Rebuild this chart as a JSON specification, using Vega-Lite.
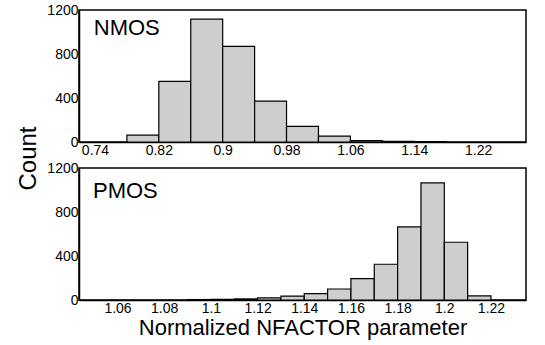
{
  "$schema": "https://vega.github.io/schema/vega-lite/v6.json",
  "autosize": {"type": "pad"},
  "padding": {"left": 16, "top": 2, "right": 17, "bottom": 2},
  "background": "white",
  "datasets": {
    "nmos": [
      {"lo": 0.78, "hi": 0.82, "count": 62},
      {"lo": 0.82, "hi": 0.86, "count": 551},
      {"lo": 0.86, "hi": 0.90, "count": 1117},
      {"lo": 0.90, "hi": 0.94, "count": 869},
      {"lo": 0.94, "hi": 0.98, "count": 372},
      {"lo": 0.98, "hi": 1.02, "count": 142},
      {"lo": 1.02, "hi": 1.06, "count": 53},
      {"lo": 1.06, "hi": 1.10, "count": 13},
      {"lo": 1.10, "hi": 1.14, "count": 5},
      {"lo": 1.14, "hi": 1.18, "count": 3}
    ],
    "pmos": [
      {"lo": 1.09, "hi": 1.10, "count": 4},
      {"lo": 1.10, "hi": 1.11, "count": 6},
      {"lo": 1.11, "hi": 1.12, "count": 10},
      {"lo": 1.12, "hi": 1.13, "count": 19},
      {"lo": 1.13, "hi": 1.14, "count": 36},
      {"lo": 1.14, "hi": 1.15, "count": 58},
      {"lo": 1.15, "hi": 1.16, "count": 100},
      {"lo": 1.16, "hi": 1.17, "count": 194},
      {"lo": 1.17, "hi": 1.18, "count": 325},
      {"lo": 1.18, "hi": 1.19, "count": 664},
      {"lo": 1.19, "hi": 1.20, "count": 1064},
      {"lo": 1.20, "hi": 1.21, "count": 525},
      {"lo": 1.21, "hi": 1.22, "count": 37}
    ]
  },
  "config": {
    "font": "Liberation Sans",
    "view": {"stroke": "black", "strokeWidth": 1.5},
    "axis": {
      "labelFont": "Liberation Sans",
      "labelFontSize": 14,
      "labelColor": "black",
      "titleFont": "Liberation Sans",
      "titleFontWeight": "normal",
      "titleColor": "black",
      "grid": false,
      "domainColor": "black",
      "domainWidth": 1.5,
      "tickColor": "black"
    }
  },
  "bounds": "flush",
  "spacing": 26,
  "vconcat": [
    {
      "width": 447,
      "height": 132,
      "layer": [
        {
          "data": {"name": "nmos"},
          "mark": {"type": "rect", "fill": "#cecece", "stroke": "black", "strokeWidth": 1.2},
          "encoding": {
            "x": {
              "field": "lo",
              "type": "quantitative",
              "scale": {"domain": [0.72, 1.28], "nice": false, "zero": false},
              "axis": {
                "values": [0.74, 0.82, 0.9, 0.98, 1.06, 1.14, 1.22],
                "format": "~g",
                "ticks": false,
                "labelPadding": 1,
                "title": null
              }
            },
            "x2": {"field": "hi"},
            "y": {
              "field": "count",
              "type": "quantitative",
              "scale": {"domain": [0, 1200], "nice": false},
              "axis": {
                "values": [0, 200, 400, 600, 800, 1000, 1200],
                "labelExpr": "datum.value % 400 === 0 ? format(datum.value, 'd') : ''",
                "tickSize": -4,
                "tickOpacity": {"condition": {"test": "datum.value % 400 === 0", "value": 0}, "value": 1},
                "labelPadding": 5,
                "title": "Count",
                "titleFontSize": 24,
                "titleY": 148,
                "titlePadding": 6
              }
            },
            "y2": {"datum": 0}
          }
        },
        {
          "data": {"values": [{"label": "NMOS"}]},
          "mark": {"type": "text", "fontSize": 22, "fontWeight": "normal", "align": "left", "baseline": "alphabetic", "fill": "black"},
          "encoding": {
            "text": {"field": "label"},
            "x": {"datum": 0.7385, "type": "quantitative"},
            "y": {"datum": 975, "type": "quantitative"}
          }
        }
      ]
    },
    {
      "width": 447,
      "height": 132,
      "layer": [
        {
          "data": {"name": "pmos"},
          "mark": {"type": "rect", "fill": "#cecece", "stroke": "black", "strokeWidth": 1.2},
          "encoding": {
            "x": {
              "field": "lo",
              "type": "quantitative",
              "scale": {"domain": [1.0435, 1.235], "nice": false, "zero": false},
              "axis": {
                "values": [1.06, 1.08, 1.1, 1.12, 1.14, 1.16, 1.18, 1.2, 1.22],
                "format": "~g",
                "ticks": false,
                "labelPadding": 1,
                "title": "Normalized NFACTOR parameter",
                "titleFontSize": 22,
                "titlePadding": 2
              }
            },
            "x2": {"field": "hi"},
            "y": {
              "field": "count",
              "type": "quantitative",
              "scale": {"domain": [0, 1200], "nice": false},
              "axis": {
                "values": [0, 200, 400, 600, 800, 1000, 1200],
                "labelExpr": "datum.value % 400 === 0 ? format(datum.value, 'd') : ''",
                "tickSize": -4,
                "tickOpacity": {"condition": {"test": "datum.value % 400 === 0", "value": 0}, "value": 1},
                "labelPadding": 5,
                "title": null
              }
            },
            "y2": {"datum": 0}
          }
        },
        {
          "data": {"values": [{"label": "PMOS"}]},
          "mark": {"type": "text", "fontSize": 22, "fontWeight": "normal", "align": "left", "baseline": "alphabetic", "fill": "black"},
          "encoding": {
            "text": {"field": "label"},
            "x": {"datum": 1.0495, "type": "quantitative"},
            "y": {"datum": 930, "type": "quantitative"}
          }
        }
      ]
    }
  ]
}
